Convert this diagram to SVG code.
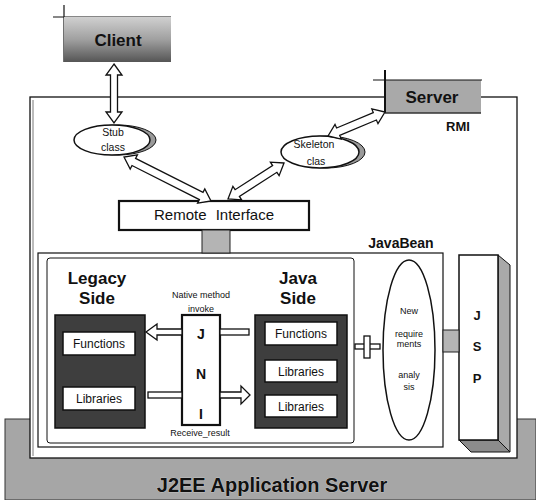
<svg xmlns="http://www.w3.org/2000/svg" width="536" height="500" viewBox="0 0 536 500">
<defs>
<linearGradient id="gClient" x1="0" y1="0" x2="0" y2="1">
<stop offset="0" stop-color="#d0d0d0"/>
<stop offset="0.5" stop-color="#a0a0a0"/>
<stop offset="1" stop-color="#555"/>
</linearGradient>
<style>
.t{font-family:"Liberation Sans",Arial,sans-serif;fill:#111;text-anchor:middle}
.b{font-weight:bold}
.box{fill:#fff;stroke:#111;stroke-width:1.5}
.dark{fill:#3e3e3e;stroke:#111;stroke-width:1.5}
.gray{fill:#b4b4b4;stroke:#222;stroke-width:1}
.hollow{fill:#fff;stroke:#111;stroke-width:1.3;stroke-linejoin:miter}
.line{fill:none;stroke:#111;stroke-width:1.2}
</style>
</defs>
<rect width="536" height="500" fill="#fff"/>

<g id="j2ee-server">
<rect x="5" y="419" width="531" height="81" fill="#a6a6a6" stroke="#333" stroke-width="1"/>
<text class="t b" x="272" y="492" font-size="20" fill="#222" stroke="#ddd" stroke-width="0.6" paint-order="stroke">J2EE Application Server</text>
</g>

<g id="main-panel">
<rect x="30" y="97" width="487" height="361" fill="#fff" stroke="#111" stroke-width="1.3"/>
<line x1="33" y1="100" x2="33" y2="456" stroke="#555" stroke-width="0.8"/>
<text class="t b" x="458" y="131" font-size="13">RMI</text>
</g>

<g id="client">
<line class="line" x1="53" y1="17" x2="171" y2="17"/>
<line class="line" x1="64" y1="5" x2="64" y2="62"/>
<rect x="64" y="17" width="107" height="45" fill="url(#gClient)"/>
<text class="t b" x="118" y="46" font-size="17">Client</text>
</g>

<g id="server">
<rect x="385" y="80" width="96" height="33" fill="#a9a9a9"/>
<line class="line" x1="373" y1="80" x2="482" y2="80"/>
<line x1="385" y1="70" x2="385" y2="113" stroke="#111" stroke-width="2"/>
<line x1="385" y1="113" x2="481" y2="113" stroke="#333" stroke-width="1.5"/>
<text class="t b" x="432" y="103" font-size="17">Server</text>
</g>

<g id="stub-class">
<ellipse cx="118" cy="140" rx="38" ry="15" fill="#9a9a9a" stroke="#111" stroke-width="1"/>
<ellipse cx="112" cy="140" rx="38" ry="15" class="box" stroke-width="1.2"/>
<text class="t" x="113" y="136" font-size="10.5">Stub</text>
<text class="t" x="113" y="151" font-size="10.5">class</text>
</g>

<g id="skeleton-class">
<ellipse cx="326" cy="152" rx="39" ry="16" fill="#9a9a9a" stroke="#111" stroke-width="1"/>
<ellipse cx="320" cy="152" rx="39" ry="16" class="box" stroke-width="1.2"/>
<text class="t" x="314" y="148" font-size="10.5">Skeleton</text>
<text class="t" x="316" y="165" font-size="10.5">clas</text>
</g>

<g id="remote-interface">
<rect x="119" y="201" width="190" height="29" fill="#fff" stroke="#111" stroke-width="2.2"/>
<text class="t" x="214" y="220" font-size="15" word-spacing="5">Remote Interface</text>
</g>

<g id="javabean">
<text class="t b" x="401" y="248" font-size="14">JavaBean</text>
<rect x="38" y="253" width="405" height="194" fill="#fff" stroke="#111" stroke-width="1.2"/>
<rect x="47" y="258" width="307" height="185" rx="3" fill="#fff" stroke="#111" stroke-width="1"/>
</g>

<g id="legacy-side">
<text class="t b" x="97" y="284" font-size="17">Legacy</text>
<text class="t b" x="97" y="304" font-size="17">Side</text>
<rect x="55" y="315" width="90" height="113" class="dark"/>
<rect x="63" y="332" width="72" height="23" class="box"/>
<text class="t" x="99" y="348" font-size="12">Functions</text>
<rect x="63" y="387" width="72" height="23" class="box"/>
<text class="t" x="99" y="403" font-size="12">Libraries</text>
</g>

<g id="jni">
<text class="t" x="201" y="298" font-size="9">Native method</text>
<text class="t" x="201" y="312" font-size="9">invoke</text>
<rect x="182" y="315" width="38" height="110" fill="#fff" stroke="#111" stroke-width="2.2"/>
<text class="t b" x="201" y="339" font-size="14">J</text>
<text class="t b" x="201" y="379" font-size="14">N</text>
<text class="t b" x="201" y="419" font-size="14">I</text>
<text class="t" x="200" y="436" font-size="9">Receive_result</text>
</g>

<g id="java-side">
<text class="t b" x="298" y="284" font-size="17">Java</text>
<text class="t b" x="298" y="304" font-size="17">Side</text>
<rect x="255" y="315" width="92" height="113" class="dark" fill="#464646"/>
<rect x="265" y="322" width="72" height="23" class="box"/>
<text class="t" x="301" y="338" font-size="12">Functions</text>
<rect x="265" y="360" width="72" height="22" class="box"/>
<text class="t" x="301" y="376" font-size="12">Libraries</text>
<rect x="265" y="395" width="72" height="22" class="box"/>
<text class="t" x="301" y="411" font-size="12">Libraries</text>
</g>

<g id="new-requirements">
<ellipse cx="409" cy="350" rx="26" ry="90" class="box" stroke-width="1.2"/>
<text class="t" x="409" y="314" font-size="9">New</text>
<text class="t" x="409" y="337" font-size="9">require</text>
<text class="t" x="409" y="347" font-size="9">ments</text>
<text class="t" x="409" y="378" font-size="9">analy</text>
<text class="t" x="409" y="390" font-size="9">sis</text>
</g>

<g id="jsp">
<polygon points="498,255 510,265 510,452 498,440" fill="#a9a9a9" stroke="#111" stroke-width="1"/>
<polygon points="459,440 498,440 510,452 471,452" fill="#8c8c8c" stroke="#111" stroke-width="1"/>
<rect x="459" y="255" width="39" height="185" class="box" stroke-width="1.2"/>
<text class="t b" x="477" y="320" font-size="13">J</text>
<text class="t b" x="477" y="351" font-size="13">S</text>
<text class="t b" x="477" y="383" font-size="13">P</text>
</g>

<g id="connectors">
<polygon class="hollow" points="114,64 122,75 117.5,75 117.5,112 122,112 114,123 106,112 110.5,112 110.5,75 106,75"/>
<polygon class="hollow" points="124,157 130.2,169.1 132.0,165.5 199.4,199.6 197.6,203.1 211,201 204.8,188.9 203.0,192.4 135.6,158.4 137.4,154.9"/>
<polygon class="hollow" points="284,163 270.4,162.2 272.6,165.6 235.1,189.7 232.9,186.3 228,199 241.6,199.8 239.4,196.4 276.9,172.3 279.1,175.7"/>
<polygon class="hollow" points="328,136 341.2,139.1 339.7,135.4 376.4,120.0 378.0,123.7 385,112 371.8,108.9 373.3,112.6 336.6,128.0 335.0,124.3"/>
<rect x="202" y="230" width="28" height="23" class="gray"/>
<polygon class="hollow" points="146,332 157,324 157,329 182,329 182,335 157,335 157,340"/>
<rect x="220" y="329" width="29" height="6" class="hollow"/>
<rect x="148" y="392" width="34" height="6" class="hollow"/>
<polygon class="hollow" points="220,392 241,392 241,386 250,395 241,404 241,398 220,398"/>
<rect x="355" y="344" width="25" height="5" class="hollow"/>
<rect x="364" y="336" width="6" height="22" class="hollow"/>
<rect x="443" y="330" width="16" height="22" class="gray"/>
</g>
</svg>
